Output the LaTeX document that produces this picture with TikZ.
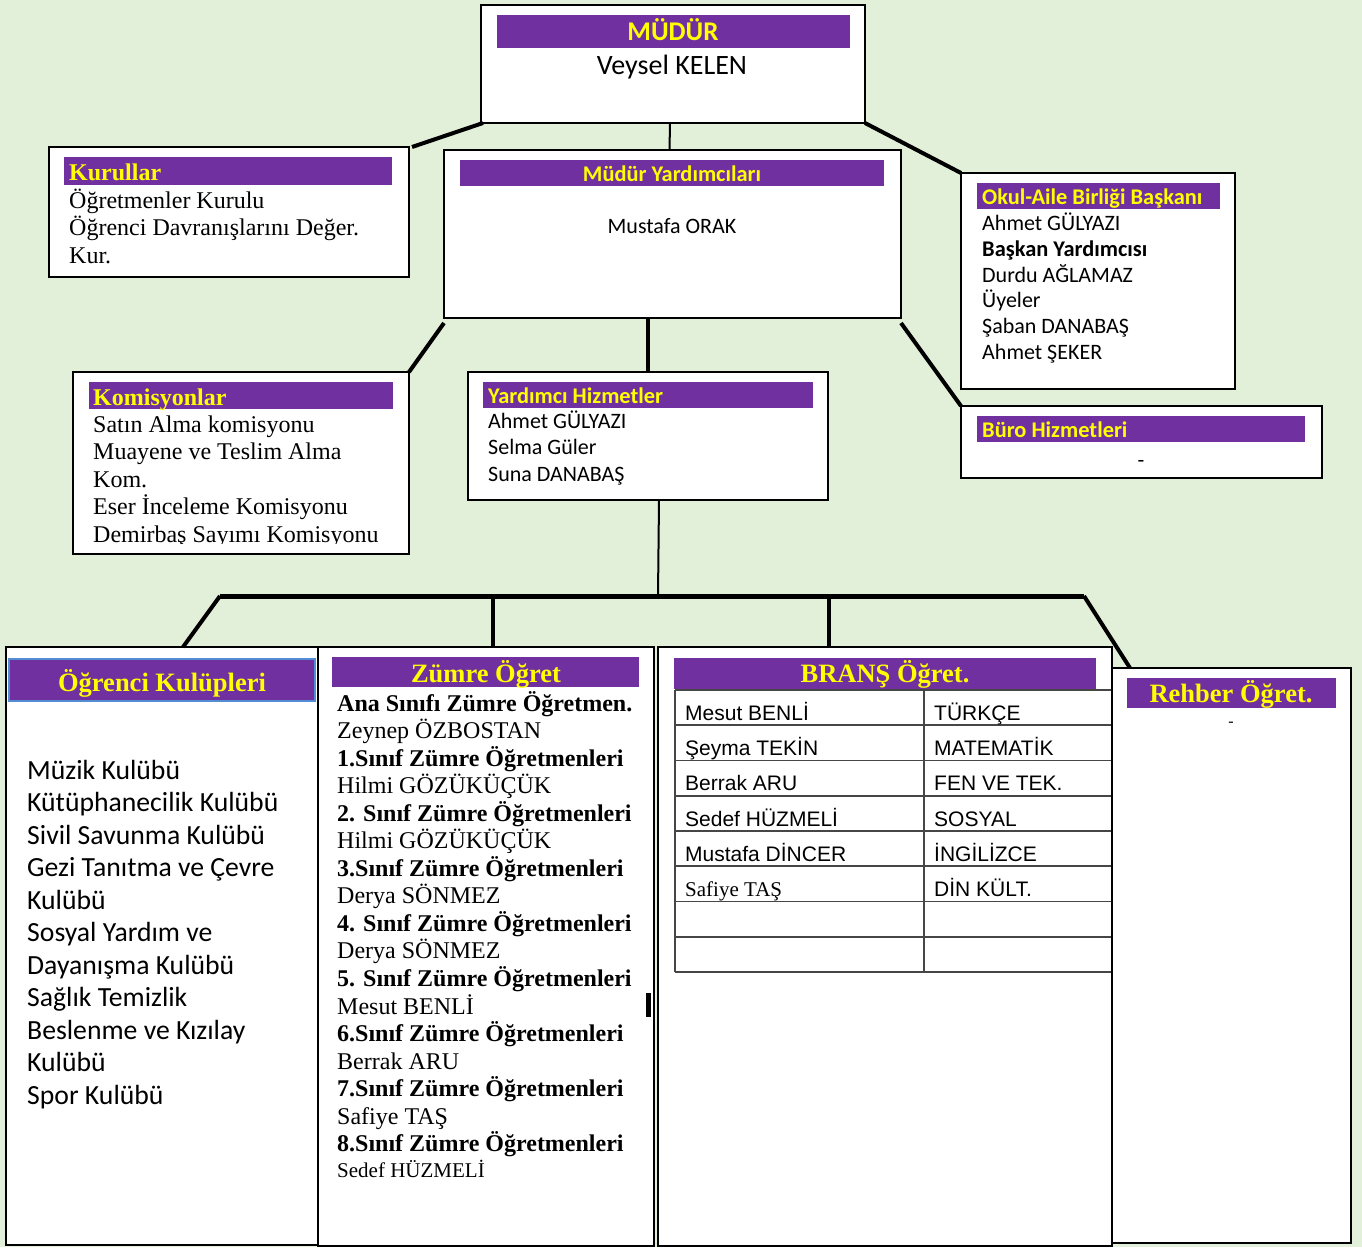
\documentclass[tikz,border=0pt]{standalone}
\usepackage{fontspec}
\setmainfont{Liberation Serif}
\newfontfamily\carl{Carlito}
\newfontfamily\arialf{Liberation Sans}
\definecolor{bgc}{RGB}{226,239,217}
\definecolor{pur}{RGB}{112,48,160}
\definecolor{yel}{RGB}{255,255,0}
\definecolor{tbl}{RGB}{70,70,70}
\definecolor{lblue}{RGB}{84,141,212}
\begin{document}
\begin{tikzpicture}[x=1pt,y=-1pt,
 box/.style={draw=black, line width=2pt, fill=white, inner sep=0pt, outer sep=0pt, anchor=north west},
 bar/.style={fill=pur, inner sep=0pt, outer sep=0pt, anchor=north west},
 ttl/.style={text=yel, inner sep=0pt, anchor=base west},
 ttlc/.style={text=yel, inner sep=0pt, anchor=base},
 txt/.style={inner sep=0pt, anchor=base west, text=black},
 txtc/.style={inner sep=0pt, anchor=base, text=black},
 thickc/.style={line width=4pt},
 thinc/.style={line width=2pt},
 cs/.style={font=\carl\fontsize{22}{26}\selectfont},
 csb/.style={font=\carl\bfseries\fontsize{22.4}{26}\selectfont},
 ts/.style={font=\fontsize{24}{27}\selectfont},
 tsb/.style={font=\bfseries\fontsize{24}{27}\selectfont},
 tbig/.style={font=\bfseries\fontsize{26.5}{30}\selectfont},
 as/.style={font=\arialf\fontsize{21}{25}\selectfont},
]
\fill[bgc] (0,0) rectangle (1362,1247);
\useasboundingbox (0,0) rectangle (1362,1247);

% MUDUR
\node[box, minimum width=384pt, minimum height=118pt] (mudur) at (481,5) {};
\node[bar, minimum width=353pt, minimum height=33pt] (mudurbar) at (497,15) {};
\node[ttlc, font=\carl\bfseries\fontsize{27}{30}\selectfont] (mudurt) at (673,41) {MÜDÜR};
\node[txtc, font=\carl\fontsize{28}{30}\selectfont] (mudurn) at (672,74.5) {Veysel KELEN};

% Kurullar
\node[box, minimum width=360pt, minimum height=130pt] (kurul) at (49,147) {};
\node[bar, minimum width=328pt, minimum height=28pt] (kurulbar) at (64,157) {};
\node[ttl, tsb] (kurult) at (69,180) {Kurullar};
\foreach \t [count=\i] in {Öğretmenler Kurulu, Öğrenci Davranışlarını Değer., Kur.}
  \node[txt, ts] (kurul\i) at (69,{208+27.5*(\i-1)}) {\t};

% Mudur Yardimcilari
\node[box, minimum width=457pt, minimum height=168pt] (myard) at (444,150) {};
\node[bar, minimum width=424pt, minimum height=26pt] (myardbar) at (460,160) {};
\node[ttlc, csb] (myardt) at (672,181) {Müdür Yardımcıları};
\node[txtc, cs] (myardn) at (672,233) {Mustafa ORAK};

% Okul-Aile
\node[box, minimum width=274pt, minimum height=216pt] (okul) at (961,173) {};
\node[bar, minimum width=243pt, minimum height=26pt] (okulbar) at (977,183) {};
\node[ttl, csb] (okult) at (982,204) {Okul-Aile Birliği Başkanı};
\node[txt, cs] (okul1) at (982,230) {Ahmet GÜLYAZI};
\node[txt, csb] (okul2) at (982,256) {Başkan Yardımcısı};
\node[txt, cs] (okul3) at (982,282) {Durdu AĞLAMAZ};
\node[txt, cs] (okul4) at (982,307) {Üyeler};
\node[txt, cs] (okul5) at (982,333) {Şaban DANABAŞ};
\node[txt, cs] (okul6) at (982,359) {Ahmet ŞEKER};

% Buro
\node[box, minimum width=361pt, minimum height=72pt] (buro) at (961,406) {};
\node[bar, minimum width=328pt, minimum height=26pt] (burobar) at (977,416) {};
\node[ttl, csb] (burot) at (982,437) {Büro Hizmetleri};
\node[txtc, cs] (buron) at (1141,467) {-};

% Komisyonlar
\node[box, minimum width=336pt, minimum height=182pt] (komis) at (73,372) {};
\node[bar, minimum width=304pt, minimum height=27pt] (komisbar) at (89,382) {};
\node[ttl, tsb] (komist) at (93,405) {Komisyonlar};
\begin{scope}
\clip (74,373) rectangle (408,543.5);
\foreach \t [count=\i] in {Satın Alma komisyonu, Muayene ve Teslim Alma, Kom., Eser İnceleme Komisyonu, Demirbaş Sayımı Komisyonu}
  \node[txt, ts] (komis\i) at (93,{432+27.5*(\i-1)}) {\t};
\end{scope}

% Yardimci Hizmetler
\node[box, minimum width=360pt, minimum height=128pt] (yard) at (468,372) {};
\node[bar, minimum width=330pt, minimum height=26pt] (yardbar) at (483,382) {};
\node[ttl, csb] (yardt) at (488,403) {Yardımcı Hizmetler};
\foreach \t [count=\i] in {Ahmet GÜLYAZI, Selma Güler, Suna DANABAŞ}
  \node[txt, cs] (yard\i) at (488,{428+26.5*(\i-1)}) {\t};

% Ogrenci Kulupleri
\node[box, minimum width=312pt, minimum height=598pt] (kulup) at (6,647) {};
\node[bar, draw=lblue, line width=2pt, minimum width=306pt, minimum height=42pt] (kulupbar) at (9,659) {};
\node[ttlc, tbig] (kulupt) at (162,691) {Öğrenci Kulüpleri};
\foreach \t [count=\i] in {Müzik Kulübü, Kütüphanecilik Kulübü, Sivil Savunma Kulübü, Gezi Tanıtma ve Çevre, Kulübü, Sosyal Yardım ve, Dayanışma Kulübü, Sağlık Temizlik, Beslenme ve Kızılay, Kulübü, Spor Kulübü}
  \node[txt, font=\carl\fontsize{27.7}{32}\selectfont] (club\i) at (27,{779+32.5*(\i-1)}) {\t};

% Zumre
\node[box, minimum width=336pt, minimum height=599pt] (zumre) at (318,647) {};
\node[bar, minimum width=307pt, minimum height=30pt] (zumrebar) at (332,657) {};
\node[ttlc, tbig] (zumret) at (486,682) {Zümre Öğret};
\foreach \t [count=\i] in {Ana Sınıfı Zümre Öğretmen., 1.Sınıf Zümre Öğretmenleri, 2. Sınıf Zümre Öğretmenleri, 3.Sınıf Zümre Öğretmenleri, 4. Sınıf Zümre Öğretmenleri, 5. Sınıf Zümre Öğretmenleri, 6.Sınıf Zümre Öğretmenleri, 7.Sınıf Zümre Öğretmenleri, 8.Sınıf Zümre Öğretmenleri}
  \node[txt, tsb] (zh\i) at (337,{711+55.1*(\i-1)}) {\t};
\foreach \t [count=\i] in {Zeynep ÖZBOSTAN, Hilmi GÖZÜKÜÇÜK, Hilmi GÖZÜKÜÇÜK, Derya SÖNMEZ, Derya SÖNMEZ, Mesut BENLİ, Berrak ARU, Safiye TAŞ}
  \node[txt, ts] (zn\i) at (337,{738.5+55.1*(\i-1)}) {\t};
\node[txt, font=\fontsize{21}{25}\selectfont] (zn9) at (337,1177) {Sedef HÜZMELİ};
\fill[black] (646,993) rectangle (651,1017);

% Brans
\node[box, minimum width=454pt, minimum height=599pt] (brans) at (658,647) {};
\node[bar, minimum width=422pt, minimum height=31pt] (bransbar) at (674,658) {};
\node[ttlc, tbig] (branst) at (885,682) {BRANŞ Öğret.};
\foreach \k in {0,...,8}
  \draw[tbl, line width=1.6pt] (675,{690+35.25*\k}) -- (1112,{690+35.25*\k});
\draw[tbl, line width=1.6pt] (675,690) -- (675,972);
\draw[tbl, line width=1.6pt] (924,690) -- (924,972);
\foreach \n/\s [count=\i] in {Mesut BENLİ/TÜRKÇE, Şeyma TEKİN/MATEMATİK, Berrak ARU/FEN VE TEK., Sedef HÜZMELİ/SOSYAL, Mustafa DİNCER/İNGİLİZCE}{
  \node[txt, as] (bn\i) at (685,{690+35.25*\i-5}) {\n};
  \node[txt, as] (bs\i) at (934,{690+35.25*\i-5}) {\s};
}
\node[txt, font=\fontsize{21}{25}\selectfont] (bn6) at (685,{690+35.25*6-5}) {Safiye TAŞ};
\node[txt, as] (bs6) at (934,{690+35.25*6-5}) {DİN KÜLT.};

% Rehber
\node[box, minimum width=239pt, minimum height=575pt] (rehber) at (1112,668) {};
\node[bar, minimum width=209pt, minimum height=30pt] (rehberbar) at (1127,678) {};
\node[ttlc, tbig] (rehbert) at (1231,702) {Rehber Öğret.};
\node[txtc, font=\fontsize{16}{20}\selectfont] (rehbern) at (1231,726) {-};

% connectors
\coordinate (busL) at (220,596);
\coordinate (busR) at (1084,596);
\coordinate (busM) at (658,596);
\coordinate (bz) at (493,596);
\coordinate (bb) at (829,596);
\draw[thickc] ([xshift=2pt]mudur.south west) -- ([xshift=3pt]kurul.north east);
\draw[thinc] ([xshift=-3pt]mudur.south) -- ([xshift=-3pt]myard.north);
\draw[thickc] (mudur.south east) -- (okul.north west);
\draw[thickc] ([yshift=-5pt]myard.south west) -- (komis.north east);
\draw[thickc] (myard.south -| yard.north) -- (yard.north);
\draw[thickc] ([yshift=-5pt]myard.south east) -- (buro.north west);
\draw[thinc] ([xshift=11pt]yard.south) -- (busM);
\draw[line width=5pt] (busL) -- (busR);
\draw[thickc] (busL) -- ([xshift=177pt]kulup.north west);
\draw[thickc] (bz) -- (bz |- zumre.north);
\draw[thickc] (bb) -- (bb |- brans.north);
\draw[thickc] (busR) -- ([xshift=18pt]rehber.north west);
\end{tikzpicture}
\end{document}
